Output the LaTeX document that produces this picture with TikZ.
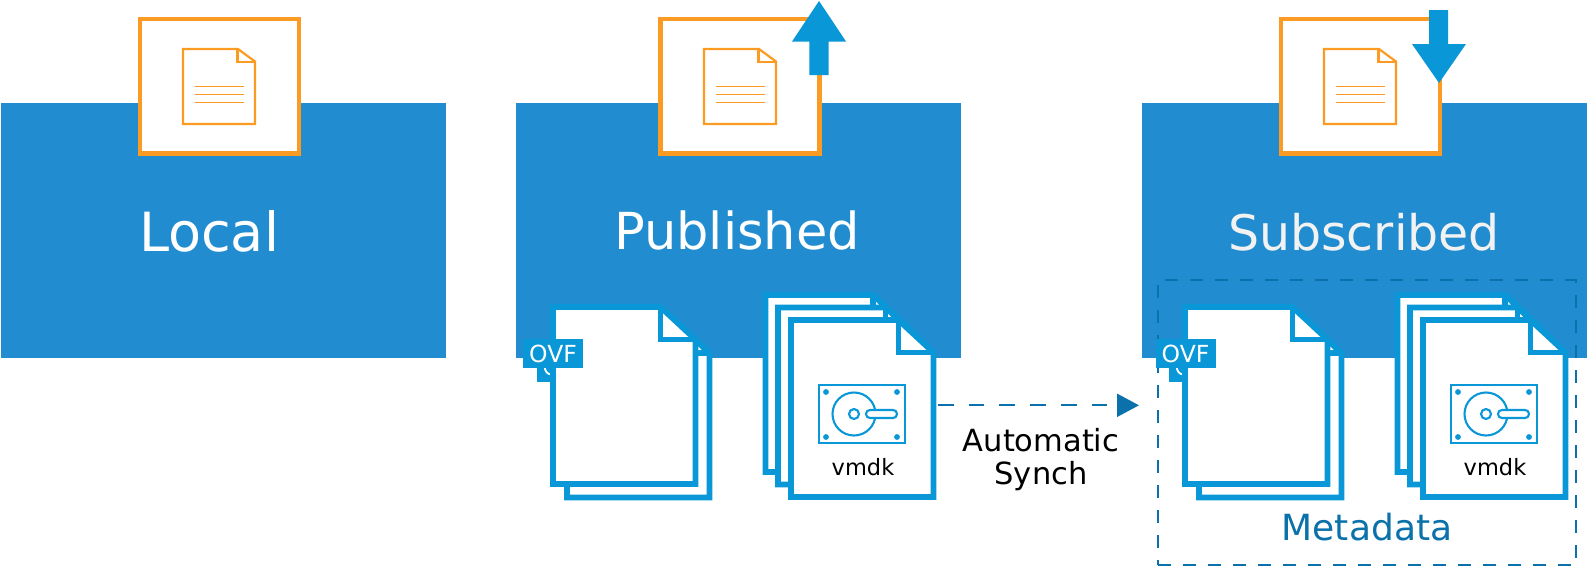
\documentclass[tikz,border=0pt]{standalone}
\usepackage{fontspec}
\setmainfont{DejaVu Sans}
\usetikzlibrary{arrows.meta}
\definecolor{panelblue}{RGB}{33,141,208}
\definecolor{docblue}{RGB}{10,151,215}
\definecolor{deepblue}{RGB}{11,113,170}
\definecolor{orangeline}{RGB}{251,155,36}
\definecolor{softwhite}{RGB}{242,242,242}
\tikzset{
  x=1pt,y=-1pt,
  panel/.style={fill=panelblue,draw=none,inner sep=0pt,outer sep=0pt,minimum width=445pt,minimum height=255pt,anchor=north west},
  panellabel/.style={text=white,anchor=base,inner sep=0pt,outer sep=0pt},
  orangebox/.style={draw=orangeline,line width=4.4pt,fill=white,inner sep=0pt,outer sep=0pt,minimum width=159pt,minimum height=134.5pt,anchor=north west},
  iconline/.style={draw=orangeline,line width=2.2pt,miter limit=10,fill=white},
  iconrule/.style={draw=orangeline,line width=1.9pt},
  docline/.style={draw=docblue,line width=5.8pt,fill=white,miter limit=10},
  tagbox/.style={fill=docblue,draw=none,inner sep=0pt,outer sep=0pt,minimum width=60pt,minimum height=29pt,text=white,anchor=north west},
  hddline/.style={draw=docblue,line width=2.1pt},
  bigarrow/.style={fill=docblue,draw=none},
  metabox/.style={draw=deepblue,line width=2pt,dash pattern=on 13pt off 12pt,inner sep=0pt,outer sep=0pt,minimum width=417.5pt,minimum height=285pt,anchor=north west},
  synch/.style={draw=deepblue,line width=2.1pt,dash pattern=on 15.7pt off 15pt,-{Triangle[length=22pt,width=23pt]}},
  paperdoc/.pic={
    \draw[docline] (0,0) -- (107.5,0) -- (142.5,32.5) -- (142.5,177) -- (0,177) -- cycle;
    \draw[docline,fill=none] (107.5,0) -- (107.5,32.5) -- (142.5,32.5);
  },
  hdd/.pic={
    \draw[hddline] (28,65) rectangle (114,123);
    \draw[hddline] (63,94) circle (21.5);
    \draw[hddline] (63,94) circle (5);
    \draw[hddline,fill=white,rounded corners=3.9pt] (75,90) rectangle (106,98);
    \foreach \px/\py in {35/72,106/72,35/117,106/117}
      \fill[docblue] (\px,\py) circle (2.9);
  },
  pagesicon/.pic={
    \draw[iconline] (0,0) -- (55,0) -- (72,12.5) -- (72,75) -- (0,75) -- cycle;
    \draw[iconline,fill=none] (54.5,0) -- (54.5,13) -- (72,13);
    \draw[iconrule] (11.5,37.5) -- (60.5,37.5);
    \draw[iconrule] (11.5,45.5) -- (60.5,45.5);
    \draw[iconrule] (11.5,53.5) -- (60.5,53.5);
  },
  hiddenglyph/.pic={
    \draw[white,line width=1.8pt] (7.7,14) .. controls (8,18) and (10,21) .. (14,21.5);
  },
}
\newcommand{\bigtext}[1]{\fontsize{#1}{#1}\selectfont}
\begin{document}
\begin{tikzpicture}
\useasboundingbox (0,0) rectangle (1588,568);
\fill[white] (0,0) rectangle (1588,568);

% panels
\node[panel] (localpanel) at (1,103) {};
\node[panel] (pubpanel) at (516,103) {};
\node[panel] (subpanel) at (1142,103) {};

\node[panellabel,font=\bigtext{54}] (locallabel) at (209,251) {Local};
\node[panellabel,font=\bigtext{51}] (publabel) at (737,249.5) {Published};
\node[panellabel,text=softwhite,font=\bigtext{49}] (sublabel) at (1364,250) {Subscribed};

% template boxes
\node[orangebox] (localtmpl) at (140,19) {};
\pic at (183,49) {pagesicon};
\node[orangebox] (pubtmpl) at (660.5,19) {};
\pic at (704,49) {pagesicon};
\node[orangebox] (subtmpl) at (1281,19) {};
\pic at (1324,49) {pagesicon};

% arrows
\fill[bigarrow] (809.3,75) -- (809.3,41.5) -- (792,41.5) -- (819,1) -- (846,41.5) -- (828.7,41.5) -- (828.7,75) -- cycle;
\fill[bigarrow] (1429,10) -- (1448,10) -- (1448,44) -- (1466,44) -- (1439,83) -- (1412,44) -- (1429,44) -- cycle;

% metadata frame
\node[metabox] (metaframe) at (1158,280) {};
\node[anchor=base,inner sep=0pt,text=deepblue,font=\bigtext{36}] (metalabel) at (1367,540.7) {Metadata};

% published OVF
\pic at (567,320.5) {paperdoc};
\node[tagbox] (pubovfb) at (537,353) {};
\pic at (537,353) {hiddenglyph};
\pic at (553,307) {paperdoc};
\node[tagbox,font=\bigtext{23.5}] (pubovfa) at (523,339) {OVF};

% published vmdk
\pic at (765.5,295) {paperdoc};
\pic at (778,307.5) {paperdoc};
\pic at (791,320) {paperdoc};
\pic at (791,320) {hdd};
\node[anchor=base,inner sep=0pt,font=\bigtext{22.5}] (pubvmdk) at (863,475) {vmdk};

% subscribed OVF
\pic at (1199,320.5) {paperdoc};
\node[tagbox] (subovfb) at (1169,353) {};
\pic at (1169,353) {hiddenglyph};
\pic at (1185,307) {paperdoc};
\node[tagbox,font=\bigtext{23.5}] (subovfa) at (1155.5,339) {OVF};

% subscribed vmdk
\pic at (1397.5,295) {paperdoc};
\pic at (1410,307.5) {paperdoc};
\pic at (1423,320) {paperdoc};
\pic at (1423,320) {hdd};
\node[anchor=base,inner sep=0pt,font=\bigtext{22.5}] (subvmdk) at (1495,475) {vmdk};

% synch connector
\coordinate (synchfrom) at (938,405.3);
\coordinate (synchto) at (1139,405.3);
\draw[synch] (synchfrom) -- (synchto);
\node[anchor=base,inner sep=0pt,font=\bigtext{30.5}] (synchlabela) at (1041,451.7) {Automatic};
\node[anchor=base,inner sep=0pt,font=\bigtext{30.5}] (synchlabelb) at (1041,484) {Synch};
\end{tikzpicture}
\end{document}
